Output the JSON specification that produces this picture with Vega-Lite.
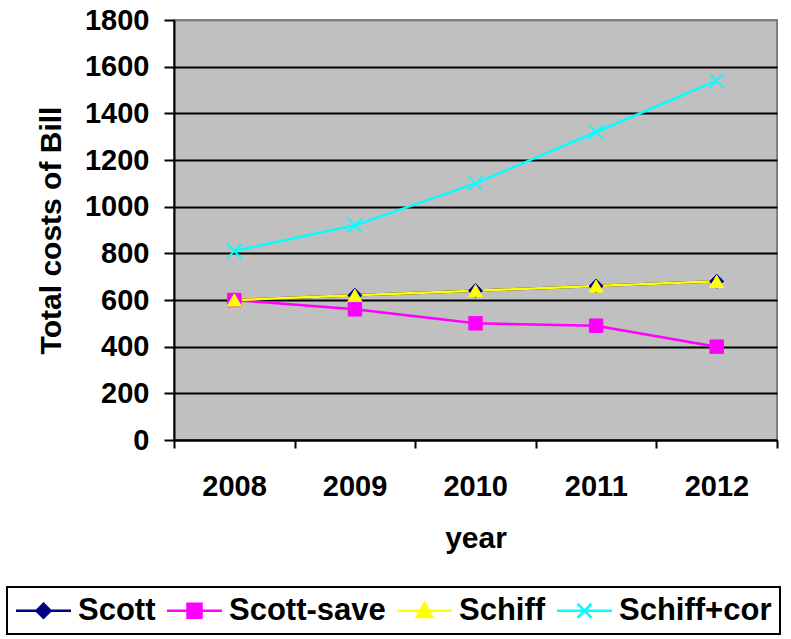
{
  "$schema": "https://vega.github.io/schema/vega-lite/v6.json",
  "width": 603,
  "height": 420,
  "autosize": "none",
  "padding": {"left": 174, "top": 20, "right": 14, "bottom": 199},
  "background": "white",
  "config": {
    "view": {"fill": "#C0C0C0", "stroke": "#808080", "strokeWidth": 2},
    "font": "Liberation Sans"
  },
  "data": {
    "values": [
      {"year": 2008, "series": "Scott", "cost": 600},
      {"year": 2009, "series": "Scott", "cost": 620},
      {"year": 2010, "series": "Scott", "cost": 640},
      {"year": 2011, "series": "Scott", "cost": 660},
      {"year": 2012, "series": "Scott", "cost": 680},
      {"year": 2008, "series": "Scott-save", "cost": 600},
      {"year": 2009, "series": "Scott-save", "cost": 560},
      {"year": 2010, "series": "Scott-save", "cost": 500},
      {"year": 2011, "series": "Scott-save", "cost": 490},
      {"year": 2012, "series": "Scott-save", "cost": 400},
      {"year": 2008, "series": "Schiff", "cost": 600},
      {"year": 2009, "series": "Schiff", "cost": 620},
      {"year": 2010, "series": "Schiff", "cost": 640},
      {"year": 2011, "series": "Schiff", "cost": 660},
      {"year": 2012, "series": "Schiff", "cost": 680},
      {"year": 2008, "series": "Schiff+cor", "cost": 810},
      {"year": 2009, "series": "Schiff+cor", "cost": 920},
      {"year": 2010, "series": "Schiff+cor", "cost": 1100},
      {"year": 2011, "series": "Schiff+cor", "cost": 1320},
      {"year": 2012, "series": "Schiff+cor", "cost": 1540}
    ]
  },
  "encoding": {
    "x": {
      "field": "year",
      "type": "quantitative",
      "scale": {"domain": [2007.5, 2012.5], "nice": false, "zero": false},
      "axis": {
        "values": [2007.5, 2008.5, 2009.5, 2010.5, 2011.5, 2012.5],
        "labelExpr": "datum.value < 2012 ? format(datum.value + 0.5, 'd') : ''",
        "labelOffset": 60,
        "title": "year",
        "grid": false,
        "labelFontSize": 29,
        "labelFontWeight": "bold",
        "labelColor": "black",
        "labelFlush": false,
        "labelOverlap": false,
        "labelBound": false,
        "labelPadding": 24,
        "titleFontSize": 30,
        "titleFontWeight": "bold",
        "titleColor": "black",
        "titlePadding": 22,
        "domainColor": "black",
        "domainWidth": 2,
        "tickColor": "black",
        "tickWidth": 2,
        "tickSize": 8
      }
    },
    "y": {
      "field": "cost",
      "type": "quantitative",
      "scale": {"domain": [0, 1800], "nice": false},
      "axis": {
        "values": [0, 200, 400, 600, 800, 1000, 1200, 1400, 1600, 1800],
        "format": "d",
        "title": "Total costs of Bill",
        "grid": true,
        "gridColor": {"condition": {"test": "datum.value >= 1800", "value": "#808080"}, "value": "black"},
        "gridWidth": 2,
        "labelFontSize": 29,
        "labelFontWeight": "bold",
        "labelColor": "black",
        "labelPadding": 15,
        "titleFontSize": 30,
        "titleFontWeight": "bold",
        "titleColor": "black",
        "titlePadding": 18,
        "domainColor": "black",
        "domainWidth": 2,
        "tickColor": "black",
        "tickWidth": 2,
        "tickSize": 10
      }
    },
    "color": {
      "field": "series",
      "type": "nominal",
      "scale": {
        "domain": ["Scott", "Scott-save", "Schiff", "Schiff+cor"],
        "range": ["#000080", "#FF00FF", "#FFFF00", "#00FFFF"]
      },
      "legend": {
        "orient": "none",
        "legendX": -167,
        "legendY": 567,
        "direction": "horizontal",
        "columns": 4,
        "title": null,
        "strokeColor": "black",
        "padding": 8,
        "symbolSize": 196,
        "symbolOffset": 13,
        "labelOffset": 19,
        "labelFontSize": 31,
        "labelFontWeight": "bold",
        "labelColor": "black",
        "labelLimit": 0,
        "columnPadding": 5,
        "symbolStrokeWidth": 2.5,
        "encode": {
          "symbols": {
            "update": {
              "shape": {"signal": "datum.value === 'Scott' ? 'M-3.93,0H3.93M0,-1L1,0L0,1L-1,0Z' : datum.value === 'Scott-save' ? 'M-3.93,0H3.93M-1,-1H1V1H-1Z' : datum.value === 'Schiff' ? 'M-3.93,0H3.93M0,-1.1L1.1,0.9H-1.1Z' : 'M-3.93,0H3.93M-1,-1L1,1M1,-1L-1,1'"},
              "fill": {"signal": "scale('color', datum.value)"},
              "stroke": {"signal": "scale('color', datum.value)"},
              "strokeWidth": {"value": 2.5},
              "opacity": {"value": 1}
            }
          },
          "legend": {
            "update": {"strokeWidth": {"value": 2}}
          }
        }
      }
    }
  },
  "layer": [
    {
      "transform": [{"filter": "datum.series === 'Scott'"}],
      "mark": {"type": "line", "strokeWidth": 2.5},
      "encoding": {}
    },
    {
      "transform": [{"filter": "datum.series !== 'Scott'"}],
      "mark": {"type": "line", "strokeWidth": 2.5},
      "encoding": {}
    },
    {
      "transform": [{"filter": "datum.series === 'Scott'"}],
      "mark": {"type": "point", "filled": true, "opacity": 1, "shape": "diamond", "size": 196, "stroke": "#000080", "strokeWidth": 1},
      "encoding": {}
    },
    {
      "transform": [{"filter": "datum.series === 'Scott-save'"}],
      "mark": {"type": "point", "filled": true, "opacity": 1, "shape": "square", "size": 180, "stroke": "#FF00FF", "strokeWidth": 1},
      "encoding": {}
    },
    {
      "transform": [{"filter": "datum.series === 'Schiff'"}],
      "mark": {"type": "point", "filled": true, "opacity": 1, "shape": "triangle-up", "size": 200, "stroke": "#FFFF00", "strokeWidth": 1},
      "encoding": {}
    },
    {
      "transform": [{"filter": "datum.series === 'Schiff+cor'"}],
      "mark": {"type": "point", "filled": true, "opacity": 1, "shape": "M-1,-1L1,1M1,-1L-1,1", "size": 196, "stroke": "#00FFFF", "strokeWidth": 2},
      "encoding": {}
    }
  ]
}
